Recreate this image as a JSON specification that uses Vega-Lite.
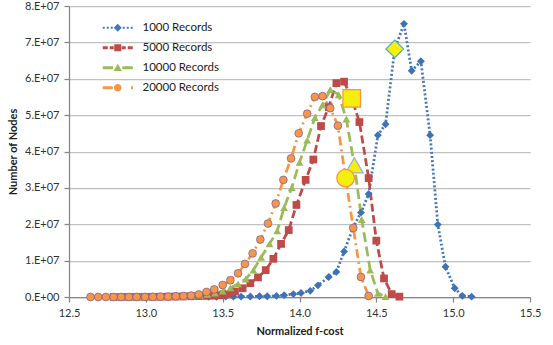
{
  "$schema": "https://vega.github.io/schema/vega-lite/v6.json",
  "width": 461,
  "height": 291,
  "autosize": {"type": "none"},
  "padding": {"left": 69, "top": 6, "right": 23, "bottom": 48},
  "background": "white",
  "config": {"view": {"stroke": null}, "font": "Lato"},
  "datasets": {
    "main": [
      {"series": "1000 Records", "fcost": 13.41, "nodes": 50000},
      {"series": "1000 Records", "fcost": 13.46, "nodes": 80000},
      {"series": "1000 Records", "fcost": 13.52, "nodes": 100000},
      {"series": "1000 Records", "fcost": 13.57, "nodes": 100000},
      {"series": "1000 Records", "fcost": 13.62, "nodes": 120000},
      {"series": "1000 Records", "fcost": 13.68, "nodes": 150000},
      {"series": "1000 Records", "fcost": 13.74, "nodes": 200000},
      {"series": "1000 Records", "fcost": 13.79, "nodes": 220000},
      {"series": "1000 Records", "fcost": 13.85, "nodes": 300000},
      {"series": "1000 Records", "fcost": 13.90, "nodes": 500000},
      {"series": "1000 Records", "fcost": 13.96, "nodes": 800000},
      {"series": "1000 Records", "fcost": 14.01, "nodes": 1100000},
      {"series": "1000 Records", "fcost": 14.07, "nodes": 1700000},
      {"series": "1000 Records", "fcost": 14.12, "nodes": 3200000},
      {"series": "1000 Records", "fcost": 14.19, "nodes": 5500000},
      {"series": "1000 Records", "fcost": 14.24, "nodes": 6900000},
      {"series": "1000 Records", "fcost": 14.29, "nodes": 12500000},
      {"series": "1000 Records", "fcost": 14.35, "nodes": 19200000},
      {"series": "1000 Records", "fcost": 14.40, "nodes": 23200000},
      {"series": "1000 Records", "fcost": 14.45, "nodes": 28300000},
      {"series": "1000 Records", "fcost": 14.51, "nodes": 44500000},
      {"series": "1000 Records", "fcost": 14.56, "nodes": 47500000},
      {"series": "1000 Records", "fcost": 14.62, "nodes": 68200000},
      {"series": "1000 Records", "fcost": 14.68, "nodes": 75100000},
      {"series": "1000 Records", "fcost": 14.73, "nodes": 62200000},
      {"series": "1000 Records", "fcost": 14.79, "nodes": 64800000},
      {"series": "1000 Records", "fcost": 14.85, "nodes": 44500000},
      {"series": "1000 Records", "fcost": 14.90, "nodes": 19900000},
      {"series": "1000 Records", "fcost": 14.95, "nodes": 8300000},
      {"series": "1000 Records", "fcost": 15.01, "nodes": 2400000},
      {"series": "1000 Records", "fcost": 15.06, "nodes": 300000},
      {"series": "1000 Records", "fcost": 15.12, "nodes": 100000},

      {"series": "5000 Records", "fcost": 12.79, "nodes": 10000},
      {"series": "5000 Records", "fcost": 12.84, "nodes": 10000},
      {"series": "5000 Records", "fcost": 12.89, "nodes": 20000},
      {"series": "5000 Records", "fcost": 12.94, "nodes": 30000},
      {"series": "5000 Records", "fcost": 12.99, "nodes": 40000},
      {"series": "5000 Records", "fcost": 13.04, "nodes": 50000},
      {"series": "5000 Records", "fcost": 13.09, "nodes": 70000},
      {"series": "5000 Records", "fcost": 13.14, "nodes": 90000},
      {"series": "5000 Records", "fcost": 13.19, "nodes": 120000},
      {"series": "5000 Records", "fcost": 13.24, "nodes": 150000},
      {"series": "5000 Records", "fcost": 13.29, "nodes": 200000},
      {"series": "5000 Records", "fcost": 13.34, "nodes": 250000},
      {"series": "5000 Records", "fcost": 13.39, "nodes": 300000},
      {"series": "5000 Records", "fcost": 13.44, "nodes": 350000},
      {"series": "5000 Records", "fcost": 13.48, "nodes": 450000},
      {"series": "5000 Records", "fcost": 13.53, "nodes": 700000},
      {"series": "5000 Records", "fcost": 13.58, "nodes": 1500000},
      {"series": "5000 Records", "fcost": 13.63, "nodes": 2400000},
      {"series": "5000 Records", "fcost": 13.68, "nodes": 3800000},
      {"series": "5000 Records", "fcost": 13.73, "nodes": 5400000},
      {"series": "5000 Records", "fcost": 13.78, "nodes": 7400000},
      {"series": "5000 Records", "fcost": 13.83, "nodes": 10500000},
      {"series": "5000 Records", "fcost": 13.88, "nodes": 14600000},
      {"series": "5000 Records", "fcost": 13.93, "nodes": 18400000},
      {"series": "5000 Records", "fcost": 13.98, "nodes": 25300000},
      {"series": "5000 Records", "fcost": 14.04, "nodes": 32200000},
      {"series": "5000 Records", "fcost": 14.09, "nodes": 37800000},
      {"series": "5000 Records", "fcost": 14.14, "nodes": 47000000},
      {"series": "5000 Records", "fcost": 14.19, "nodes": 52200000},
      {"series": "5000 Records", "fcost": 14.24, "nodes": 58800000},
      {"series": "5000 Records", "fcost": 14.29, "nodes": 59200000},
      {"series": "5000 Records", "fcost": 14.34, "nodes": 54600000},
      {"series": "5000 Records", "fcost": 14.39, "nodes": 48100000},
      {"series": "5000 Records", "fcost": 14.45, "nodes": 32700000},
      {"series": "5000 Records", "fcost": 14.50, "nodes": 15500000},
      {"series": "5000 Records", "fcost": 14.55, "nodes": 5100000},
      {"series": "5000 Records", "fcost": 14.60, "nodes": 800000},
      {"series": "5000 Records", "fcost": 14.65, "nodes": 100000},

      {"series": "10000 Records", "fcost": 12.80, "nodes": 10000},
      {"series": "10000 Records", "fcost": 12.85, "nodes": 10000},
      {"series": "10000 Records", "fcost": 12.90, "nodes": 20000},
      {"series": "10000 Records", "fcost": 12.95, "nodes": 30000},
      {"series": "10000 Records", "fcost": 13.00, "nodes": 40000},
      {"series": "10000 Records", "fcost": 13.05, "nodes": 60000},
      {"series": "10000 Records", "fcost": 13.10, "nodes": 80000},
      {"series": "10000 Records", "fcost": 13.15, "nodes": 100000},
      {"series": "10000 Records", "fcost": 13.20, "nodes": 150000},
      {"series": "10000 Records", "fcost": 13.25, "nodes": 200000},
      {"series": "10000 Records", "fcost": 13.30, "nodes": 300000},
      {"series": "10000 Records", "fcost": 13.35, "nodes": 500000},
      {"series": "10000 Records", "fcost": 13.40, "nodes": 700000},
      {"series": "10000 Records", "fcost": 13.45, "nodes": 1100000},
      {"series": "10000 Records", "fcost": 13.50, "nodes": 1600000},
      {"series": "10000 Records", "fcost": 13.55, "nodes": 2500000},
      {"series": "10000 Records", "fcost": 13.60, "nodes": 3600000},
      {"series": "10000 Records", "fcost": 13.65, "nodes": 4900000},
      {"series": "10000 Records", "fcost": 13.70, "nodes": 7400000},
      {"series": "10000 Records", "fcost": 13.75, "nodes": 10900000},
      {"series": "10000 Records", "fcost": 13.805, "nodes": 14600000},
      {"series": "10000 Records", "fcost": 13.855, "nodes": 18200000},
      {"series": "10000 Records", "fcost": 13.90, "nodes": 24600000},
      {"series": "10000 Records", "fcost": 13.95, "nodes": 30100000},
      {"series": "10000 Records", "fcost": 14.00, "nodes": 37000000},
      {"series": "10000 Records", "fcost": 14.05, "nodes": 43100000},
      {"series": "10000 Records", "fcost": 14.10, "nodes": 49300000},
      {"series": "10000 Records", "fcost": 14.15, "nodes": 52800000},
      {"series": "10000 Records", "fcost": 14.20, "nodes": 57000000},
      {"series": "10000 Records", "fcost": 14.255, "nodes": 55600000},
      {"series": "10000 Records", "fcost": 14.305, "nodes": 48900000},
      {"series": "10000 Records", "fcost": 14.357, "nodes": 36200000},
      {"series": "10000 Records", "fcost": 14.405, "nodes": 21300000},
      {"series": "10000 Records", "fcost": 14.46, "nodes": 7400000},
      {"series": "10000 Records", "fcost": 14.51, "nodes": 1000000},
      {"series": "10000 Records", "fcost": 14.56, "nodes": 100000},

      {"series": "20000 Records", "fcost": 12.64, "nodes": 0},
      {"series": "20000 Records", "fcost": 12.69, "nodes": 0},
      {"series": "20000 Records", "fcost": 12.74, "nodes": 0},
      {"series": "20000 Records", "fcost": 12.79, "nodes": 0},
      {"series": "20000 Records", "fcost": 12.84, "nodes": 10000},
      {"series": "20000 Records", "fcost": 12.89, "nodes": 10000},
      {"series": "20000 Records", "fcost": 12.94, "nodes": 20000},
      {"series": "20000 Records", "fcost": 12.995, "nodes": 40000},
      {"series": "20000 Records", "fcost": 13.045, "nodes": 60000},
      {"series": "20000 Records", "fcost": 13.095, "nodes": 90000},
      {"series": "20000 Records", "fcost": 13.145, "nodes": 130000},
      {"series": "20000 Records", "fcost": 13.195, "nodes": 200000},
      {"series": "20000 Records", "fcost": 13.245, "nodes": 280000},
      {"series": "20000 Records", "fcost": 13.295, "nodes": 400000},
      {"series": "20000 Records", "fcost": 13.345, "nodes": 700000},
      {"series": "20000 Records", "fcost": 13.395, "nodes": 1400000},
      {"series": "20000 Records", "fcost": 13.445, "nodes": 2100000},
      {"series": "20000 Records", "fcost": 13.50, "nodes": 3300000},
      {"series": "20000 Records", "fcost": 13.55, "nodes": 4600000},
      {"series": "20000 Records", "fcost": 13.60, "nodes": 6500000},
      {"series": "20000 Records", "fcost": 13.645, "nodes": 9100000},
      {"series": "20000 Records", "fcost": 13.695, "nodes": 12000000},
      {"series": "20000 Records", "fcost": 13.745, "nodes": 15800000},
      {"series": "20000 Records", "fcost": 13.795, "nodes": 20200000},
      {"series": "20000 Records", "fcost": 13.845, "nodes": 25700000},
      {"series": "20000 Records", "fcost": 13.895, "nodes": 32200000},
      {"series": "20000 Records", "fcost": 13.945, "nodes": 38100000},
      {"series": "20000 Records", "fcost": 13.995, "nodes": 45000000},
      {"series": "20000 Records", "fcost": 14.05, "nodes": 50400000},
      {"series": "20000 Records", "fcost": 14.10, "nodes": 55000000},
      {"series": "20000 Records", "fcost": 14.15, "nodes": 55200000},
      {"series": "20000 Records", "fcost": 14.20, "nodes": 51900000},
      {"series": "20000 Records", "fcost": 14.25, "nodes": 47100000},
      {"series": "20000 Records", "fcost": 14.30, "nodes": 32700000},
      {"series": "20000 Records", "fcost": 14.35, "nodes": 19000000},
      {"series": "20000 Records", "fcost": 14.40, "nodes": 5500000},
      {"series": "20000 Records", "fcost": 14.45, "nodes": 300000}
    ],
    "hl": [
      {"series": "1000 Records", "fcost": 14.62, "nodes": 68200000},
      {"series": "5000 Records", "fcost": 14.34, "nodes": 54600000},
      {"series": "10000 Records", "fcost": 14.357, "nodes": 36200000},
      {"series": "20000 Records", "fcost": 14.30, "nodes": 32700000}
    ]
  },
  "encoding": {
    "x": {
      "field": "fcost", "type": "quantitative",
      "scale": {"domain": [12.5, 15.5], "nice": false, "zero": false},
      "axis": {
        "values": [12.5, 13, 13.5, 14, 14.5, 15, 15.5],
        "title": "Normalized f-cost", "grid": false,
        "domainColor": "#868686", "domainWidth": 1.25, "tickColor": "#868686", "tickWidth": 1.25, "tickSize": 5,
        "labelPadding": 5, "labelFont": "Lato", "labelFontSize": 11, "labelColor": "#333333", "labelFlush": false,
        "titleFont": "Lato", "titleFontSize": 11, "titleFontWeight": "bold", "titleColor": "#222222", "titlePadding": 7
      }
    },
    "y": {
      "field": "nodes", "type": "quantitative",
      "scale": {"domain": [0, 80000000], "nice": false},
      "axis": {
        "values": [0, 10000000, 20000000, 30000000, 40000000, 50000000, 60000000, 70000000, 80000000],
        "labelExpr": "datum.value == 0 ? '0.E+00' : (datum.value / 10000000) + '.E+07'",
        "title": "Number of Nodes", "grid": true, "gridColor": "#C0C0C0", "gridWidth": 1.25,
        "domainColor": "#868686", "domainWidth": 1.25, "tickColor": "#868686", "tickWidth": 1.25, "tickSize": 5,
        "labelPadding": 5, "labelFont": "Lato", "labelFontSize": 11, "labelColor": "#333333",
        "titleFont": "Lato", "titleFontSize": 11, "titleFontWeight": "bold", "titleColor": "#222222", "titlePadding": 6
      }
    }
  },
  "layer": [
    {
      "data": {"name": "main"},
      "mark": {"type": "line", "strokeWidth": 2.75},
      "encoding": {
        "stroke": {
          "field": "series", "type": "nominal",
          "scale": {"domain": ["1000 Records", "5000 Records", "10000 Records", "20000 Records"], "range": ["#4677BA", "#BE4B48", "#9BBB59", "#F79646"]},
          "legend": {
            "orient": "none", "legendX": 43, "legendY": 16, "direction": "vertical",
            "title": null, "padding": 0, "symbolSize": 16, "labelOffset": 19, "rowPadding": 7,
            "labelFont": "Lato", "labelFontSize": 11.5, "labelColor": "#222222",
            "encode": {
              "symbols": {
                "update": {
                  "shape": {"signal": "datum.value === '1000 Records' ? 'M-7.5,-0.55L-6.5,-0.55L-6.5,0L-5.5,0L-5.5,-0.55L-4.5,-0.55L-4.5,0L-3.5,0L-3.5,-0.55L-2.5,-0.55L-2.5,0L-2,0L0,-2L2,0L2.5,0L2.5,-0.55L3.5,-0.55L3.5,0L4.5,0L4.5,-0.55L5.5,-0.55L5.5,0L6.5,0L6.5,-0.55L7.5,-0.55L7.5,0.55L6.5,0.55L6.5,0L5.5,0L5.5,0.55L4.5,0.55L4.5,0L3.5,0L3.5,0.55L2.5,0.55L2.5,0L2,0L0,2L-2,0L-2.5,0L-2.5,0.55L-3.5,0.55L-3.5,0L-4.5,0L-4.5,0.55L-5.5,0.55L-5.5,0L-6.5,0L-6.5,0.55L-7.5,0.55Z' : datum.value === '5000 Records' ? 'M-7.5,-0.75L-5,-0.75L-5,0L-4,0L-4,-0.75L-2,-0.75L-2,0L-1.75,0L-1.75,-1.75L1.75,-1.75L1.75,0L2,0L2,-0.75L4,-0.75L4,0L5,0L5,-0.75L7.5,-0.75L7.5,0.75L5,0.75L5,0L4,0L4,0.75L2,0.75L2,0L1.75,0L1.75,1.75L-1.75,1.75L-1.75,0L-2,0L-2,0.75L-4,0.75L-4,0L-5,0L-5,0.75L-7.5,0.75Z' : datum.value === '10000 Records' ? 'M-7.5,-0.75L-2.3,-0.75L-2.3,0L-1.167,0L0,-2L1.167,0L2.3,0L2.3,-0.75L7.5,-0.75L7.5,0.75L2.3,0.75L2.3,0L1.167,0L2.1,1.6L-2.1,1.6L-1.167,0L-2.3,0L-2.3,0.75L-7.5,0.75Z' : 'M-7.5,-0.75L-2.5,-0.75L-2.5,0L-1.9,0A1.9,1.9 0 0,1 1.9,0L6.6,0L6.6,-0.75L7.6,-0.75L7.6,0.75L6.6,0.75L6.6,0L1.9,0A1.9,1.9 0 0,1 -1.9,0L-2.5,0L-2.5,0.75L-7.5,0.75Z'"},
                  "fill": {"signal": "datum.value === '1000 Records' ? '#4677BA' : datum.value === '5000 Records' ? '#BE4B48' : datum.value === '10000 Records' ? '#9BBB59' : '#F79646'"},
                  "strokeWidth": {"value": 0},
                  "opacity": {"value": 1},
                  "size": {"value": 16}
                }
              }
            }
          }
        },
        "strokeDash": {
          "field": "series", "type": "nominal",
          "scale": {"domain": ["1000 Records", "5000 Records", "10000 Records", "20000 Records"], "range": [[2, 2.2], [8, 3.5], [10, 4.5], [9, 4, 2, 4]]},
          "legend": null
        }
      }
    },
    {
      "data": {"name": "main"},
      "mark": {"type": "point", "filled": true, "opacity": 1, "strokeWidth": 0.75},
      "encoding": {
        "shape": {
          "field": "series", "type": "nominal",
          "scale": {"range": ["diamond", "triangle-up", "circle", "square"]},
          "legend": null
        },
        "fill": {
          "field": "series", "type": "nominal",
          "scale": {"range": ["#3F72B5", "#9BBB59", "#F79646", "#BE4B48"]},
          "legend": null
        },
        "stroke": {"condition": {"test": "datum.series === '20000 Records'", "value": "#7E62A1"}, "value": "transparent"},
        "size": {
          "field": "series", "type": "ordinal",
          "scale": {"range": [62, 60, 46, 46]},
          "legend": null
        }
      }
    },
    {
      "data": {"name": "hl"},
      "mark": {"type": "point", "filled": true, "opacity": 1, "fill": "#F6EE0C", "strokeWidth": 1.25},
      "encoding": {
        "shape": {"field": "series", "type": "nominal", "legend": null},
        "stroke": {
          "condition": [
            {"test": "datum.series === '1000 Records'", "value": "#4BACC6"},
            {"test": "datum.series === '10000 Records'", "value": "#8DB3E2"}
          ],
          "value": "#F79646"
        },
        "size": {"value": 310}
      }
    }
  ]
}
